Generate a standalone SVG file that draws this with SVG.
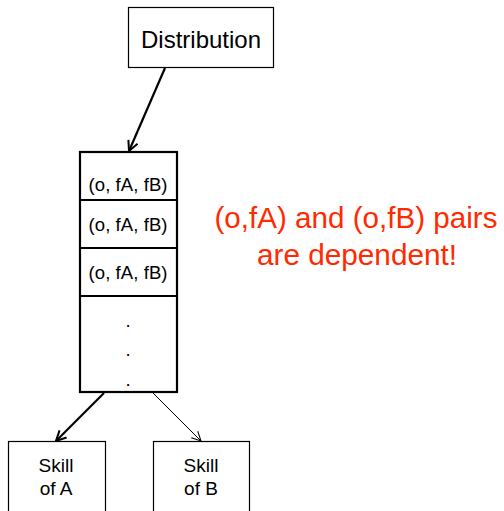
<svg xmlns="http://www.w3.org/2000/svg" width="504" height="511" viewBox="0 0 504 511">
<style>
text{font-family:"Liberation Sans",Arial,Helvetica,sans-serif;fill:#000;text-anchor:middle}
.thin{fill:#fff;stroke:#000;stroke-width:1.2}
.thick{fill:#fff;stroke:#000;stroke-width:2.2}
.red{fill:#ff2a00;font-size:29px}
.row{font-size:18.5px}
.sk{font-size:19px}
</style>
<defs>
<marker id="ah" viewBox="0 0 12 12" refX="11" refY="6" markerWidth="12" markerHeight="12" markerUnits="userSpaceOnUse" orient="auto">
<path d="M1,1 L11,6 L1,11" fill="none" stroke="#000" stroke-width="2"/>
</marker>
<marker id="ahT" viewBox="0 0 12 12" refX="11" refY="6" markerWidth="11" markerHeight="11" markerUnits="userSpaceOnUse" orient="auto">
<path d="M1,1 L11,6 L1,11" fill="none" stroke="#000" stroke-width="1.1"/>
</marker>
</defs>
<g id="distribution">
<rect class="thin" x="128.5" y="7.5" width="145" height="60"/>
<text x="201" y="48" style="font-size:24px">Distribution</text>
</g>
<g id="stack">
<rect class="thick" x="80" y="152" width="97" height="240"/>
<line x1="80" y1="200" x2="177" y2="200" stroke="#000" stroke-width="2.2"/>
<line x1="80" y1="248" x2="177" y2="248" stroke="#000" stroke-width="2.2"/>
<line x1="80" y1="296" x2="177" y2="296" stroke="#000" stroke-width="2.2"/>
<text class="row" x="128" y="191" textLength="79">(o, fA, fB)</text>
<text class="row" x="128" y="231" textLength="79">(o, fA, fB)</text>
<text class="row" x="128" y="279" textLength="79">(o, fA, fB)</text>
<text class="row" x="128" y="327">.</text>
<text class="row" x="128" y="356">.</text>
<text class="row" x="128" y="386">.</text>
</g>
<g id="skillA">
<rect class="thin" x="8.5" y="441.5" width="97" height="80"/>
<text class="sk" x="56" y="472">Skill</text>
<text class="sk" x="56" y="495">of A</text>
</g>
<g id="skillB">
<rect class="thin" x="153.5" y="441.5" width="96" height="80"/>
<text class="sk" x="201" y="472">Skill</text>
<text class="sk" x="201" y="495">of B</text>
</g>
<g id="note">
<text class="red" x="356" y="228" textLength="283" lengthAdjust="spacingAndGlyphs">(o,fA) and (o,fB) pairs</text>
<text class="red" x="357" y="265" textLength="200" lengthAdjust="spacingAndGlyphs">are dependent!</text>
</g>
<g id="connectors" fill="none" stroke="#000">
<line x1="165" y1="68" x2="129" y2="151" stroke-width="2.2" marker-end="url(#ah)"/>
<line x1="104" y1="393" x2="56" y2="441" stroke-width="2.2" marker-end="url(#ah)"/>
<line x1="153" y1="393" x2="201" y2="441" stroke-width="1" marker-end="url(#ahT)"/>
</g>
</svg>
